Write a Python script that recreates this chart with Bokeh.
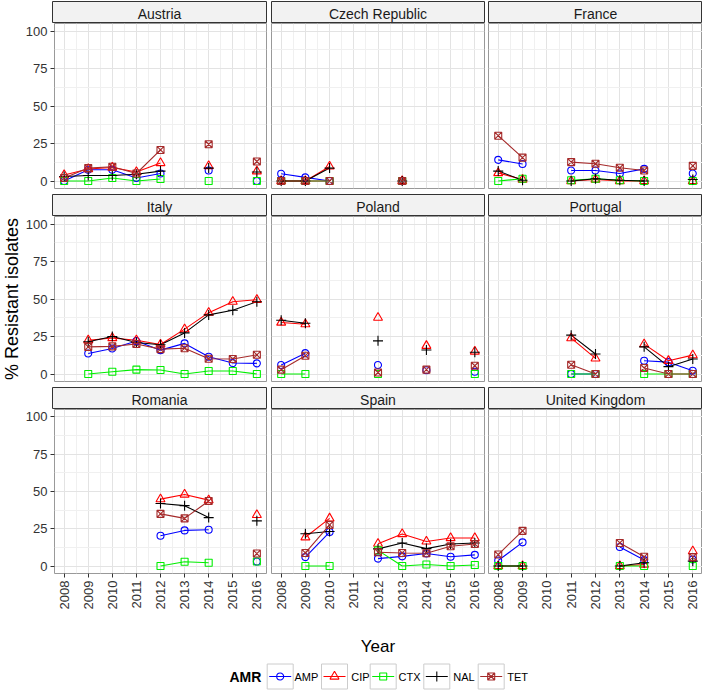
import math
import numpy as np
from bokeh.plotting import figure
from bokeh.models import Range1d, FixedTicker, Label, ColumnDataSource, LinearAxis, Grid
from bokeh.layouts import row, column
from bokeh.embed import file_html
from bokeh.resources import INLINE
from bokeh.core.properties import value

N = None

# ---------------- data ----------------
years = [2008, 2009, 2010, 2011, 2012, 2013, 2014, 2015, 2016]
y_ticks = [0, 25, 50, 75, 100]
countries = ["Austria", "Czech Republic", "France",
             "Italy", "Poland", "Portugal",
             "Romania", "Spain", "United Kingdom"]
amr_names = ["AMP", "CIP", "CTX", "NAL", "TET"]
amr_colors = ["#0000FF", "#FF0000", "#00EE00", "#000000", "#A52A2A"]
amr_markers = ["circle", "triangle", "square", "cross", "square_x"]
amr_sizes = [7, 9, 7, 10, 7]

austria_AMP = [0, 7.5, 7.5, 2, 5, N, 7, N, 0]
austria_CIP = [4, 8, 9, 6, 12, N, 10, N, 6.5]
austria_CTX = [0, 0, 2, 0, 1.3, N, 0, N, 0]
austria_NAL = [3, 3.7, 3.7, 4.5, 6.6, N, 8.6, N, 6]
austria_TET = [2, 8.6, 9.5, 5, 20.7, N, 24.5, N, 13]

czech_AMP = [4.8, 2.4, 0, N, N, 0, N, N, N]
czech_CIP = [0, 0, 9.7, N, N, 0, N, N, N]
czech_CTX = [0, 0, 0, N, N, 0, N, N, N]
czech_NAL = [0, 0, 8.6, N, N, 0, N, N, N]
czech_TET = [0, 0, 0, N, N, 0, N, N, N]

france_AMP = [14.1, 11.3, N, 7, 7, 5, 8.1, N, 5]
france_CIP = [5.3, 1, N, 0, 1, 0, 0, N, 0]
france_CTX = [0, 1.5, N, 0.5, 1.5, 0.5, 0, N, 0]
france_NAL = [6.6, 0.5, N, 0, 1.5, 0.5, 0, N, 1]
france_TET = [30.2, 15.6, N, 12.6, 11.5, 8.8, 7, N, 10.1]

italy_AMP = [N, 13.7, 17, 22, 15.9, 20.4, 11.5, 7.3, 7.1]
italy_CIP = [N, 22.5, 24, 22.5, 19.7, 29.9, 40.9, 48.2, 49.5]
italy_CTX = [N, 0, 1.5, 2.9, 2.7, 0, 2, 2, 0]
italy_NAL = [N, 21.5, 25, 21, 19.5, 27.4, 39.4, 42.5, 48.2]
italy_TET = [N, 18.1, 18.4, 20, 16.6, 17.2, 10.2, 10, 12.8]

poland_AMP = [6, 13.9, N, N, 6, N, 2.5, N, 1.5]
poland_CIP = [34.3, 33.2, N, N, 37.6, N, 18.8, N, 15]
poland_CTX = [0, 0, N, N, 0, N, N, N, 0]
poland_NAL = [35.8, 33.8, N, N, 22.1, N, 16, N, 14.5]
poland_TET = [2.9, 12.2, N, N, 1, N, 2.9, N, 5.5]

portugal_AMP = [N, N, N, 0, 0, N, 8.8, 7.9, 2.2]
portugal_CIP = [N, N, N, 23.9, 10.4, N, 19.9, 8.8, 12.6]
portugal_CTX = [N, N, N, 0, 0, N, 0, 0, 0]
portugal_NAL = [N, N, N, 25.9, 13.3, N, 18.1, 4.9, 10]
portugal_TET = [N, N, N, 6.2, 0, N, 4, 0, 0]

romania_AMP = [N, N, N, N, 20.3, 23.9, 24.3, N, 3]
romania_CIP = [N, N, N, N, 44.9, 48, 44.2, N, 34.3]
romania_CTX = [N, N, N, N, 0, 2.9, 2.2, N, 3]
romania_NAL = [N, N, N, N, 42, 40.5, 32.5, N, 30.3]
romania_TET = [N, N, N, N, 35, 32, 43.6, N, 8.4]

spain_AMP = [N, 6, 22.8, N, 5, 6.5, 8.4, 6.2, 7.5]
spain_CIP = [N, 19.3, 32, N, 15, 21.5, 16.5, 18.8, 18.8]
spain_CTX = [N, 0, 0, N, 10.5, 0, 1, 0, 0.7]
spain_NAL = [N, 21.7, 23.2, N, 11.5, 15.5, 11.7, 14.8, 15.5]
spain_TET = [N, 8.8, 27.6, N, 9.3, 8.8, 8.6, 13.3, 14.8]

uk_AMP = [3.7, 15.9, N, N, N, 12.8, 4, N, 4.4]
uk_CIP = [0, 0, N, N, N, 0, 1, N, 10]
uk_CTX = [0, 0, N, N, N, 0, 0, N, 0]
uk_NAL = [0, 0, N, N, N, 0, 2.2, N, 3.3]
uk_TET = [7.7, 23.6, N, N, N, 15.5, 6.2, N, 6]

series = {
    "Austria": [austria_AMP, austria_CIP, austria_CTX, austria_NAL, austria_TET],
    "Czech Republic": [czech_AMP, czech_CIP, czech_CTX, czech_NAL, czech_TET],
    "France": [france_AMP, france_CIP, france_CTX, france_NAL, france_TET],
    "Italy": [italy_AMP, italy_CIP, italy_CTX, italy_NAL, italy_TET],
    "Poland": [poland_AMP, poland_CIP, poland_CTX, poland_NAL, poland_TET],
    "Portugal": [portugal_AMP, portugal_CIP, portugal_CTX, portugal_NAL, portugal_TET],
    "Romania": [romania_AMP, romania_CIP, romania_CTX, romania_NAL, romania_TET],
    "Spain": [spain_AMP, spain_CIP, spain_CTX, spain_NAL, spain_TET],
    "United Kingdom": [uk_AMP, uk_CIP, uk_CTX, uk_NAL, uk_TET],
}

# ---------------- layout constants ----------------
FONT = "Liberation Sans"
FWS = [214, 213, 214]          # frame widths per column
LEFTS = [30, 2, 2]             # left borders per column
RIGHTS = [3, 2, 0]             # right borders per column
FH, SH = 165, 22
BOT_AX, GAP = 38, 5
YT_W = 22
GRID_MAJOR = "#E3E3E3"
GRID_MINOR = "#F0F0F0"


def base_fig(w, h, **kw):
    return figure(width=w, height=h, toolbar_location=None, output_backend="svg",
                  x_axis_type=None, y_axis_type=None, border_fill_color="white", **kw)


def make_strip(name, ci):
    fw = FWS[ci]
    s = base_fig(LEFTS[ci] + fw + RIGHTS[ci], SH + 1,
                 min_border_left=LEFTS[ci], min_border_right=RIGHTS[ci],
                 min_border_top=1, min_border_bottom=0,
                 x_range=Range1d(0, fw), y_range=Range1d(0, SH),
                 background_fill_color="#F2F2F2",
                 outline_line_color="#333333", outline_line_width=1)
    s.grid.visible = False
    s.add_layout(Label(x=fw / 2, y=SH / 2 - 1, text=name, text_align="center",
                       text_baseline="middle", text_font=FONT,
                       text_font_size="14px", text_color="#1A1A1A"))
    return s


def make_panel(name, ci, ri):
    fw = FWS[ci]
    bottom = BOT_AX if ri == 2 else GAP
    p = base_fig(LEFTS[ci] + fw + RIGHTS[ci], FH + bottom,
                 min_border_left=LEFTS[ci], min_border_right=RIGHTS[ci],
                 min_border_top=0, min_border_bottom=bottom,
                 x_range=Range1d(2007.6, 2016.4), y_range=Range1d(-5, 105),
                 background_fill_color="white",
                 outline_line_color="#999999", outline_line_width=1)
    p.add_layout(Grid(dimension=0,
                      ticker=FixedTicker(ticks=years, minor_ticks=[y + 0.5 for y in years[:-1]]),
                      grid_line_color=GRID_MAJOR, grid_line_width=1,
                      minor_grid_line_color=GRID_MINOR, minor_grid_line_width=1))
    p.add_layout(Grid(dimension=1,
                      ticker=FixedTicker(ticks=y_ticks, minor_ticks=[12.5, 37.5, 62.5, 87.5]),
                      grid_line_color=GRID_MAJOR, grid_line_width=1,
                      minor_grid_line_color=GRID_MINOR, minor_grid_line_width=1))
    axis_kw = dict(axis_line_color=None, major_tick_line_color="#333333",
                   major_tick_out=4, major_tick_in=0, minor_tick_line_color=None,
                   major_label_text_font=FONT, major_label_text_font_size="13px",
                   major_label_text_color="#333333", major_label_standoff=3)
    if ci == 0:
        p.add_layout(LinearAxis(ticker=FixedTicker(ticks=y_ticks), **axis_kw), "left")
    if ri == 2:
        p.add_layout(LinearAxis(ticker=FixedTicker(ticks=years),
                                major_label_orientation=math.pi / 2, **axis_kw), "below")
    sources = []
    for k in range(len(amr_names)):
        src = ColumnDataSource(dict(x=years, y=np.array(series[name][k], dtype=float)))
        sources.append(src)
        p.line("x", "y", source=src, line_color=amr_colors[k], line_width=1.1)
    for k in range(len(amr_names)):
        p.scatter("x", "y", source=sources[k], marker=amr_markers[k], size=amr_sizes[k],
                  line_color=amr_colors[k], fill_color=None, line_width=1.1)
    return p


rows = []
for ri in range(3):
    names = countries[ri * 3:(ri + 1) * 3]
    rows.append(row([make_strip(n, ci) for ci, n in enumerate(names)]))
    rows.append(row([make_panel(n, ci, ri) for ci, n in enumerate(names)]))
grid_col = column(rows)

GRID_H = 3 * (SH + 1) + 2 * (FH + GAP) + FH + BOT_AX
ytitle = base_fig(YT_W, GRID_H, min_border=0,
                  x_range=Range1d(0, YT_W), y_range=Range1d(GRID_H, 0),
                  background_fill_color="white", outline_line_color=None)
ytitle.grid.visible = False
italy_center = (SH + 1) + (FH + GAP) + (SH + 1) + FH / 2
ytitle.add_layout(Label(x=11, y=italy_center, text="% Resistant isolates", angle=math.pi / 2,
                        text_align="center", text_baseline="middle", text_font=FONT,
                        text_font_size="18px", text_color="#000000"))

TOTAL_W = YT_W + sum(LEFTS) + sum(FWS) + sum(RIGHTS)
BOT_H = 80
bottom = base_fig(TOTAL_W, BOT_H, min_border=0,
                  x_range=Range1d(0, TOTAL_W), y_range=Range1d(BOT_H, 0),
                  background_fill_color="white", outline_line_color=None)
bottom.grid.visible = False
mid_center = YT_W + LEFTS[0] + FWS[0] + RIGHTS[0] + LEFTS[1] + FWS[1] / 2
bottom.add_layout(Label(x=mid_center, y=34, text="Year", text_align="center",
                        text_baseline="middle", text_font=FONT, text_font_size="17px",
                        text_color="#000000"))

# legend (manual, ggplot style keys)
LEG_Y = 64
key_left = [266.7, 321, 369.7, 423.3, 477.7]
label_left = [294, 350.7, 398, 452.7, 506.7]
KW, KH = 26, 25
bottom.add_layout(Label(x=229, y=LEG_Y, text="AMR", text_align="left", text_baseline="middle",
                        text_font=FONT, text_font_size="14px", text_font_style="bold",
                        text_color="#000000"))
bottom.quad(left=key_left, right=[k + KW for k in key_left],
            top=[LEG_Y - KH / 2] * 5, bottom=[LEG_Y + KH / 2] * 5,
            fill_color="white", line_color="#CCCCCC", line_width=1)
bottom.segment(x0=[k + 2 for k in key_left], x1=[k + KW - 2 for k in key_left],
               y0=[LEG_Y] * 5, y1=[LEG_Y] * 5, line_color=amr_colors, line_width=1.1)
for k in range(5):
    bottom.scatter([key_left[k] + KW / 2], [LEG_Y], marker=amr_markers[k], size=amr_sizes[k],
                   line_color=amr_colors[k], fill_color=None, line_width=1.1)
bottom.text(x=label_left, y=[LEG_Y] * 5, text=amr_names, text_align="left",
            text_baseline="middle", text_font=value(FONT), text_font_size="11px",
            text_color="#000000")

layout = column([row([ytitle, grid_col]), bottom])
open("out.html", "w").write(file_html(layout, INLINE))
